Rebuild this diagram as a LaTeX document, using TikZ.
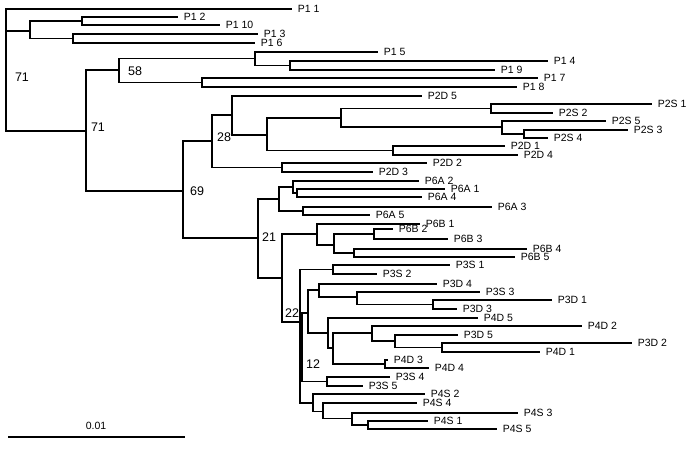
\documentclass[tikz,border=0pt]{standalone}
\usepackage{fontspec}
\setmainfont{Liberation Sans}
\begin{document}
\begin{tikzpicture}[x=1pt,y=-1pt,line width=1.7pt,
  leaf/.style={anchor=west,inner xsep=5pt,inner ysep=0pt,font=\fontsize{10.5}{11}\selectfont},
  boot/.style={font=\fontsize{12.5}{13}\selectfont,inner sep=0pt}]
\useasboundingbox (0,0) rectangle (687,450);
% internal nodes
\coordinate (root) at (6,70);
\coordinate (nA) at (30,31);
\coordinate (nA1) at (82,21);
\coordinate (nA2) at (73,38.5);
\coordinate (n71) at (86,131);
\coordinate (n58) at (119,70);
\coordinate (nB) at (255,58.5);
\coordinate (nB2) at (290,65.5);
\coordinate (nC) at (202,82.5);
\coordinate (n69) at (183,191);
\coordinate (n28) at (212,141);
\coordinate (nD) at (232,115);
\coordinate (nF) at (267,135);
\coordinate (nG) at (341,118);
\coordinate (nG1) at (491,108.5);
\coordinate (nG2) at (502,127);
\coordinate (nG3) at (524,134);
\coordinate (nH) at (393,150.5);
\coordinate (nE) at (282,167.5);
\coordinate (n21) at (258,238);
\coordinate (nI) at (279,199);
\coordinate (nI1) at (293,187);
\coordinate (nI3) at (297,193);
\coordinate (nI2) at (303,211);
\coordinate (n22a) at (282,278);
\coordinate (nJ) at (317,234);
\coordinate (nJ1) at (334,245);
\coordinate (nJ2) at (374,234);
\coordinate (nJ3) at (354,253);
\coordinate (n22) at (300,322);
\coordinate (nK) at (333,269.5);
\coordinate (n12) at (302,347);
\coordinate (nM) at (308,313);
\coordinate (nM1) at (319,290);
\coordinate (nM3) at (357,297);
\coordinate (nM4) at (433,304.5);
\coordinate (nM2) at (328,333);
\coordinate (nO) at (333,348);
\coordinate (nO1) at (372,333);
\coordinate (nO2) at (385,364);
\coordinate (nO3) at (395,341);
\coordinate (nO4) at (442,347.5);
\coordinate (nN) at (327,381.5);
\coordinate (nL) at (313,403);
\coordinate (nL1) at (323,411.5);
\coordinate (nL2) at (352,418.5);
\coordinate (nL3) at (368,425);
% leaves
\node[leaf] (p11) at (292,9) {P1 1};
\node[leaf] (p12) at (178,17) {P1 2};
\node[leaf] (p110) at (220,25) {P1 10};
\node[leaf] (p13) at (258,34) {P1 3};
\node[leaf] (p16) at (255,43) {P1 6};
\node[leaf] (p15) at (378,52) {P1 5};
\node[leaf] (p14) at (548,61) {P1 4};
\node[leaf] (p19) at (495,70) {P1 9};
\node[leaf] (p17) at (538,78) {P1 7};
\node[leaf] (p18) at (517,87) {P1 8};
\node[leaf] (p2d5) at (422,96) {P2D 5};
\node[leaf] (p2s1) at (652,104) {P2S 1};
\node[leaf] (p2s2) at (553,113) {P2S 2};
\node[leaf] (p2s5) at (606,121) {P2S 5};
\node[leaf] (p2s3) at (628,130) {P2S 3};
\node[leaf] (p2s4) at (548,138) {P2S 4};
\node[leaf] (p2d1) at (505,146) {P2D 1};
\node[leaf] (p2d4) at (518,155) {P2D 4};
\node[leaf] (p2d2) at (427,163) {P2D 2};
\node[leaf] (p2d3) at (373,172) {P2D 3};
\node[leaf] (p6a2) at (419,181) {P6A 2};
\node[leaf] (p6a1) at (445,189) {P6A 1};
\node[leaf] (p6a4) at (422,197) {P6A 4};
\node[leaf] (p6a3) at (492,207) {P6A 3};
\node[leaf] (p6a5) at (370,215) {P6A 5};
\node[leaf] (p6b1) at (420,224) {P6B 1};
\node[leaf] (p6b2) at (393,229) {P6B 2};
\node[leaf] (p6b3) at (448,239) {P6B 3};
\node[leaf] (p6b4) at (527,249) {P6B 4};
\node[leaf] (p6b5) at (515,257) {P6B 5};
\node[leaf] (p3s1) at (450,265) {P3S 1};
\node[leaf] (p3s2) at (377,274) {P3S 2};
\node[leaf] (p3d4) at (437,284) {P3D 4};
\node[leaf] (p3s3) at (480,292) {P3S 3};
\node[leaf] (p3d1) at (552,300) {P3D 1};
\node[leaf] (p3d3) at (457,309) {P3D 3};
\node[leaf] (p4d5) at (478,318) {P4D 5};
\node[leaf] (p4d2) at (582,326) {P4D 2};
\node[leaf] (p3d5) at (458,335) {P3D 5};
\node[leaf] (p3d2) at (632,343) {P3D 2};
\node[leaf] (p4d1) at (540,352) {P4D 1};
\node[leaf] (p4d3) at (388,360) {P4D 3};
\node[leaf] (p4d4) at (429,368) {P4D 4};
\node[leaf] (p3s4) at (390,377) {P3S 4};
\node[leaf] (p3s5) at (363,386) {P3S 5};
\node[leaf] (p4s2) at (425,394) {P4S 2};
\node[leaf] (p4s4) at (417,403) {P4S 4};
\node[leaf] (p4s3) at (518,413) {P4S 3};
\node[leaf] (p4s1) at (428,421) {P4S 1};
\node[leaf] (p4s5) at (497,429) {P4S 5};
% branches
\draw (root) |- (p11.west); \draw (root) |- (nA); \draw (root) |- (n71);
\draw (nA) |- (nA1); \draw (nA) |- (nA2);
\draw (nA1) |- (p12.west); \draw (nA1) |- (p110.west);
\draw (nA2) |- (p13.west); \draw (nA2) |- (p16.west);
\draw (n71) |- (n58); \draw (n71) |- (n69);
\draw (n58) |- (nB); \draw (n58) |- (nC);
\draw (nB) |- (p15.west); \draw (nB) |- (nB2);
\draw (nB2) |- (p14.west); \draw (nB2) |- (p19.west);
\draw (nC) |- (p17.west); \draw (nC) |- (p18.west);
\draw (n69) |- (n28); \draw (n69) |- (n21);
\draw (n28) |- (nD); \draw (n28) |- (nE);
\draw (nD) |- (p2d5.west); \draw (nD) |- (nF);
\draw (nF) |- (nG); \draw (nF) |- (nH);
\draw (nG) |- (nG1); \draw (nG) |- (nG2);
\draw (nG1) |- (p2s1.west); \draw (nG1) |- (p2s2.west);
\draw (nG2) |- (p2s5.west); \draw (nG2) |- (nG3);
\draw (nG3) |- (p2s3.west); \draw (nG3) |- (p2s4.west);
\draw (nH) |- (p2d1.west); \draw (nH) |- (p2d4.west);
\draw (nE) |- (p2d2.west); \draw (nE) |- (p2d3.west);
\draw (n21) |- (nI); \draw (n21) |- (n22a);
\draw (nI) |- (nI1); \draw (nI) |- (nI2);
\draw (nI1) |- (p6a2.west); \draw (nI1) |- (nI3);
\draw (nI3) |- (p6a1.west); \draw (nI3) |- (p6a4.west);
\draw (nI2) |- (p6a3.west); \draw (nI2) |- (p6a5.west);
\draw (n22a) |- (nJ); \draw (n22a) |- (n22);
\draw (nJ) |- (p6b1.west); \draw (nJ) |- (nJ1);
\draw (nJ1) |- (nJ2); \draw (nJ1) |- (nJ3);
\draw (nJ2) |- (p6b2.west); \draw (nJ2) |- (p6b3.west);
\draw (nJ3) |- (p6b4.west); \draw (nJ3) |- (p6b5.west);
\draw (n22) |- (nK); \draw (n22) |- (n12); \draw (n22) |- (nL);
\draw (nK) |- (p3s1.west); \draw (nK) |- (p3s2.west);
\draw (n12) |- (nM); \draw (n12) |- (nN);
\draw (nM) |- (nM1); \draw (nM) |- (nM2);
\draw (nM1) |- (p3d4.west); \draw (nM1) |- (nM3);
\draw (nM3) |- (p3s3.west); \draw (nM3) |- (nM4);
\draw (nM4) |- (p3d1.west); \draw (nM4) |- (p3d3.west);
\draw (nM2) |- (p4d5.west); \draw (nM2) |- (nO);
\draw (nO) |- (nO1); \draw (nO) |- (nO2);
\draw (nO1) |- (p4d2.west); \draw (nO1) |- (nO3);
\draw (nO3) |- (p3d5.west); \draw (nO3) |- (nO4);
\draw (nO4) |- (p3d2.west); \draw (nO4) |- (p4d1.west);
\draw (nO2) |- (p4d3.west); \draw (nO2) |- (p4d4.west);
\draw (nN) |- (p3s4.west); \draw (nN) |- (p3s5.west);
\draw (nL) |- (p4s2.west); \draw (nL) |- (nL1);
\draw (nL1) |- (p4s4.west); \draw (nL1) |- (nL2);
\draw (nL2) |- (p4s3.west); \draw (nL2) |- (nL3);
\draw (nL3) |- (p4s1.west); \draw (nL3) |- (p4s5.west);
% bootstrap values
\node[boot] (b71a) at (22,77) {71};
\node[boot] (b71b) at (98,127) {71};
\node[boot] (b58) at (135,71) {58};
\node[boot] (b28) at (224,137) {28};
\node[boot] (b69) at (197,191) {69};
\node[boot] (b21) at (269,237) {21};
\node[boot] (b22) at (292,313) {22};
\node[boot] (b12) at (313,364) {12};
% scale bar
\coordinate (sL) at (8,437);
\coordinate (sR) at (185,437);
\draw[line width=1.2pt] (sL) -- (sR);
\node[leaf,anchor=center,inner xsep=0pt] (scale) at (96,426) {0.01};
\end{tikzpicture}
\end{document}
